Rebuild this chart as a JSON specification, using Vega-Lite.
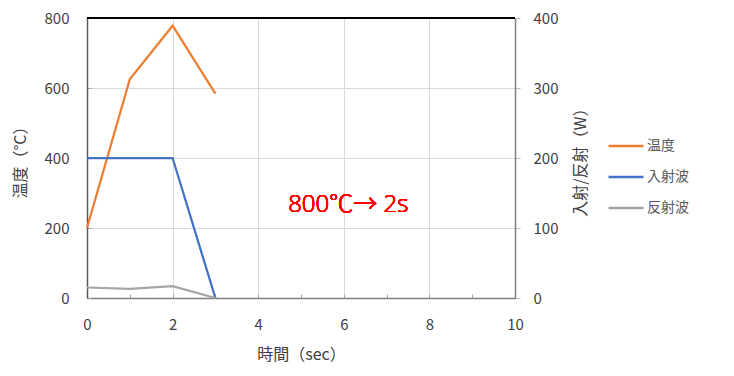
{
  "$schema": "https://vega.github.io/schema/vega-lite/v6.json",
  "width": 428,
  "height": 280,
  "autosize": "none",
  "padding": {"left": 87, "top": 18, "right": 219, "bottom": 78},
  "config": {
    "view": {"stroke": null},
    "font": "Noto Sans CJK JP",
    "axis": {"labelFont": "Noto Sans CJK JP", "titleFont": "Noto Sans CJK JP", "labelColor": "#404040", "titleColor": "#404040", "labelFontSize": 15, "titleFontSize": 16, "titleFontWeight": "normal", "gridColor": "#d9d9d9", "gridWidth": 1, "labelFlush": false}
  },
  "data": {
    "values": [
      {"t": 0, "series": "温度", "v": 200},
      {"t": 1, "series": "温度", "v": 625},
      {"t": 2, "series": "温度", "v": 778},
      {"t": 3, "series": "温度", "v": 584},
      {"t": 0, "series": "入射波", "v": 200},
      {"t": 2, "series": "入射波", "v": 200},
      {"t": 3, "series": "入射波", "v": 0},
      {"t": 0, "series": "反射波", "v": 15},
      {"t": 1, "series": "反射波", "v": 13},
      {"t": 2, "series": "反射波", "v": 17},
      {"t": 3, "series": "反射波", "v": 0}
    ]
  },
  "layer": [
    {
      "layer": [
        {
          "transform": [{"filter": "datum.series === '温度'"}],
          "mark": {"type": "line", "strokeWidth": 2.25},
          "encoding": {
            "x": {
              "field": "t", "type": "quantitative",
              "scale": {"domain": [0, 10], "nice": false},
              "axis": {
                "title": "時間（sec）",
                "values": [0, 0.5, 1, 1.5, 2, 2.5, 3, 3.5, 4, 4.5, 5, 5.5, 6, 6.5, 7, 7.5, 8, 8.5, 9, 9.5, 10],
                "labelExpr": "datum.value % 2 === 0 ? datum.label : ''",
                "grid": true,
                "gridOpacity": {"condition": {"test": "datum.value % 2 === 0", "value": 1}, "value": 0},
                "tickSize": -4,
                "tickColor": "#a6a6a6",
                "domainColor": "#808080",
                "domainWidth": 1.5,
                "labelPadding": 23,
                "titlePadding": 14
              }
            },
            "y": {
              "field": "v", "type": "quantitative",
              "scale": {"domain": [0, 800], "nice": false},
              "axis": {
                "title": "温度（°C）",
                "values": [0, 50, 100, 150, 200, 250, 300, 350, 400, 450, 500, 550, 600, 650, 700, 750, 800],
                "labelExpr": "datum.value % 200 === 0 ? datum.label : ''",
                "grid": true,
                "gridOpacity": {"condition": {"test": "datum.value % 200 === 0", "value": 1}, "value": 0},
                "tickSize": -4,
                "tickColor": "#a6a6a6",
                "domainColor": "#595959",
                "domainWidth": 1.5,
                "labelPadding": 22,
                "titlePadding": 16
              }
            },
            "color": {
              "field": "series", "type": "nominal",
              "scale": {"domain": ["温度", "入射波", "反射波"], "range": ["#ED7D31", "#4472C4", "#A5A5A5"]},
              "legend": {
                "title": null,
                "orient": "none",
                "legendX": 520,
                "legendY": 109,
                "padding": 0,
                "symbolType": "stroke",
                "symbolSize": 1225,
                "symbolStrokeWidth": 2.5,
                "labelFont": "Noto Sans CJK JP",
                "labelFontSize": 14,
                "labelColor": "#595959",
                "labelOffset": 2,
                "rowPadding": 5
              }
            }
          }
        },
        {
          "mark": {"type": "rule", "color": "#000000", "strokeWidth": 2},
          "encoding": {"y": {"datum": 800}}
        },
        {
          "mark": {"type": "text", "color": "#ff0000", "fontSize": 24, "fontWeight": 300, "align": "left", "baseline": "middle", "font": "Open Sans, Noto Sans CJK JP"},
          "encoding": {"x": {"datum": 4.7}, "y": {"datum": 266}, "text": {"value": "800℃→ 2s"}}
        }
      ]
    },
    {
      "transform": [{"filter": "datum.series !== '温度'"}],
      "mark": {"type": "line", "strokeWidth": 2.25},
      "encoding": {
        "x": {"field": "t", "type": "quantitative"},
        "y": {
          "field": "v", "type": "quantitative",
          "scale": {"domain": [0, 400], "nice": false},
          "axis": {
            "orient": "right",
            "title": "入射/反射（W）",
            "titleAngle": 270,
            "values": [0, 100, 200, 300, 400],
            "grid": false,
            "tickSize": 5,
            "tickColor": "#bfbfbf",
            "domainColor": "#808080",
            "domainWidth": 1.5,
            "labelPadding": 13,
            "titlePadding": 31
          }
        },
        "color": {"field": "series", "type": "nominal"}
      }
    }
  ],
  "resolve": {"scale": {"y": "independent"}}
}
